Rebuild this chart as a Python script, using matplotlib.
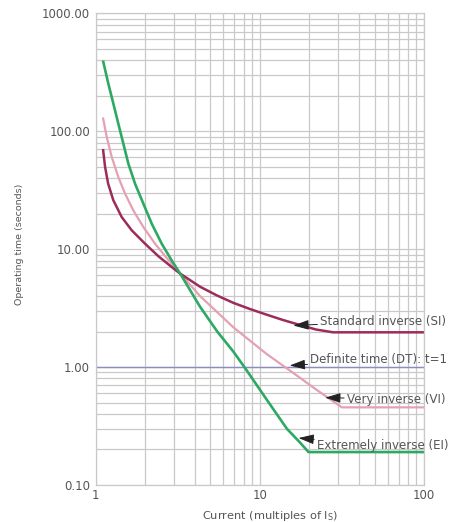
import matplotlib.pyplot as plt
from matplotlib.ticker import FixedLocator, NullFormatter, FuncFormatter

# values (current in multiples of Is, time in seconds)
si_current = [1.11, 1.14, 1.19, 1.28, 1.44, 1.66, 2.0, 2.41, 3.04, 3.27, 4.32, 5.47,
              6.9, 8.73, 11.0, 13.9, 17.6, 22.0, 28.0, 100]
si_time = [69, 50, 36, 26, 18.7, 14.4, 11.1, 8.7, 6.7, 6.2, 4.8, 4.05,
           3.5, 3.1, 2.78, 2.5, 2.27, 2.08, 1.97, 1.97]

vi_current = [1.11, 1.167, 1.252, 1.373, 1.509, 1.695, 1.951, 2.30, 2.71, 3.27, 4.32,
              6.9, 11.0, 15.3, 22.2, 31.6, 100]
vi_time = [128, 89.5, 60.5, 40.9, 29.6, 21.3, 15.4, 11.1, 8.4, 6.2, 4.0,
           2.17, 1.29, 0.93, 0.64, 0.455, 0.455]

ei_current = [1.112, 1.193, 1.28, 1.373, 1.473, 1.58, 1.736, 1.951, 2.196, 2.526, 2.907,
              3.27, 4.32, 5.5, 6.9, 8.13, 11.0, 14.6, 17.5, 19.8, 100]
ei_time = [388, 254, 172, 116, 78.6, 53.2, 35.9, 24.3, 16.4, 11.1, 8.0,
           6.2, 3.25, 2.0, 1.35, 0.98, 0.53, 0.30, 0.23, 0.19, 0.19]

dt_current = [1, 100]
dt_time = [1.0, 1.0]

labels = ["Standard inverse (SI)", "Definite time (DT): t=1",
          "Very inverse (VI)", "Extremely inverse (EI)"]

plt.rcParams['font.family'] = ['DejaVu Sans']
txt_col = '#555555'

fig = plt.figure(figsize=(4.68, 5.22), dpi=100)
ax = fig.add_axes([0.2045, 0.071, 0.7015, 0.9035])

ax.set_xscale('log')
ax.set_yscale('log')
ax.set_xlim(1, 100)
ax.set_ylim(0.1, 1000)

grid_col = '#c9c9c9'
ax.grid(True, which='both', color=grid_col, linewidth=0.9)
ax.set_axisbelow(True)
for s in ax.spines.values():
    s.set_color(grid_col)
    s.set_linewidth(0.9)

ax.plot(dt_current, dt_time, color='#8c8cc4', linewidth=1.0)
ax.plot(vi_current, vi_time, color='#e6a0b3', linewidth=1.6)
ax.plot(si_current, si_time, color='#9c2c5a', linewidth=1.8)
ax.plot(ei_current, ei_time, color='#2ea964', linewidth=1.9)

ax.yaxis.set_major_locator(FixedLocator([0.1, 1, 10, 100, 1000]))
ax.yaxis.set_major_formatter(FuncFormatter(lambda v, p: f"{v:.2f}"))
ax.yaxis.set_minor_formatter(NullFormatter())
ax.xaxis.set_major_locator(FixedLocator([1, 10, 100]))
ax.xaxis.set_major_formatter(FuncFormatter(lambda v, p: f"{v:g}"))
ax.xaxis.set_minor_formatter(NullFormatter())
ax.tick_params(which='both', length=0, labelsize=8.5, labelcolor=txt_col)
ax.tick_params(axis='x', pad=3)
ax.tick_params(axis='y', pad=4)

ax.set_xlabel(r"Current (multiples of I$_\mathregular{S}$)", fontsize=8.2,
              color=txt_col, va='center')
ax.xaxis.set_label_coords(0.53, -0.066)
ax.set_ylabel("Operating time (seconds)", fontsize=6.8, color=txt_col,
              va='center')
ax.yaxis.set_label_coords(-0.232, 0.51)

arrow = dict(arrowstyle='-|>,head_length=1.1,head_width=0.35',
             color='#222222', lw=0.7, shrinkA=0, shrinkB=0)
notes = [((16.0, 2.25), (23.3, 2.43)),
         ((15.2, 1.03), (20.3, 1.15)),
         ((25.0, 0.55), (33.9, 0.535)),
         ((17.2, 0.25), (22.3, 0.218))]
for text, (tip, pos) in zip(labels, notes):
    ax.annotate(text, xy=tip, xytext=pos, ha='left', va='center',
                fontsize=8.6, color=txt_col, arrowprops=arrow,
                annotation_clip=False)

fig.savefig("out.png", dpi=100)
